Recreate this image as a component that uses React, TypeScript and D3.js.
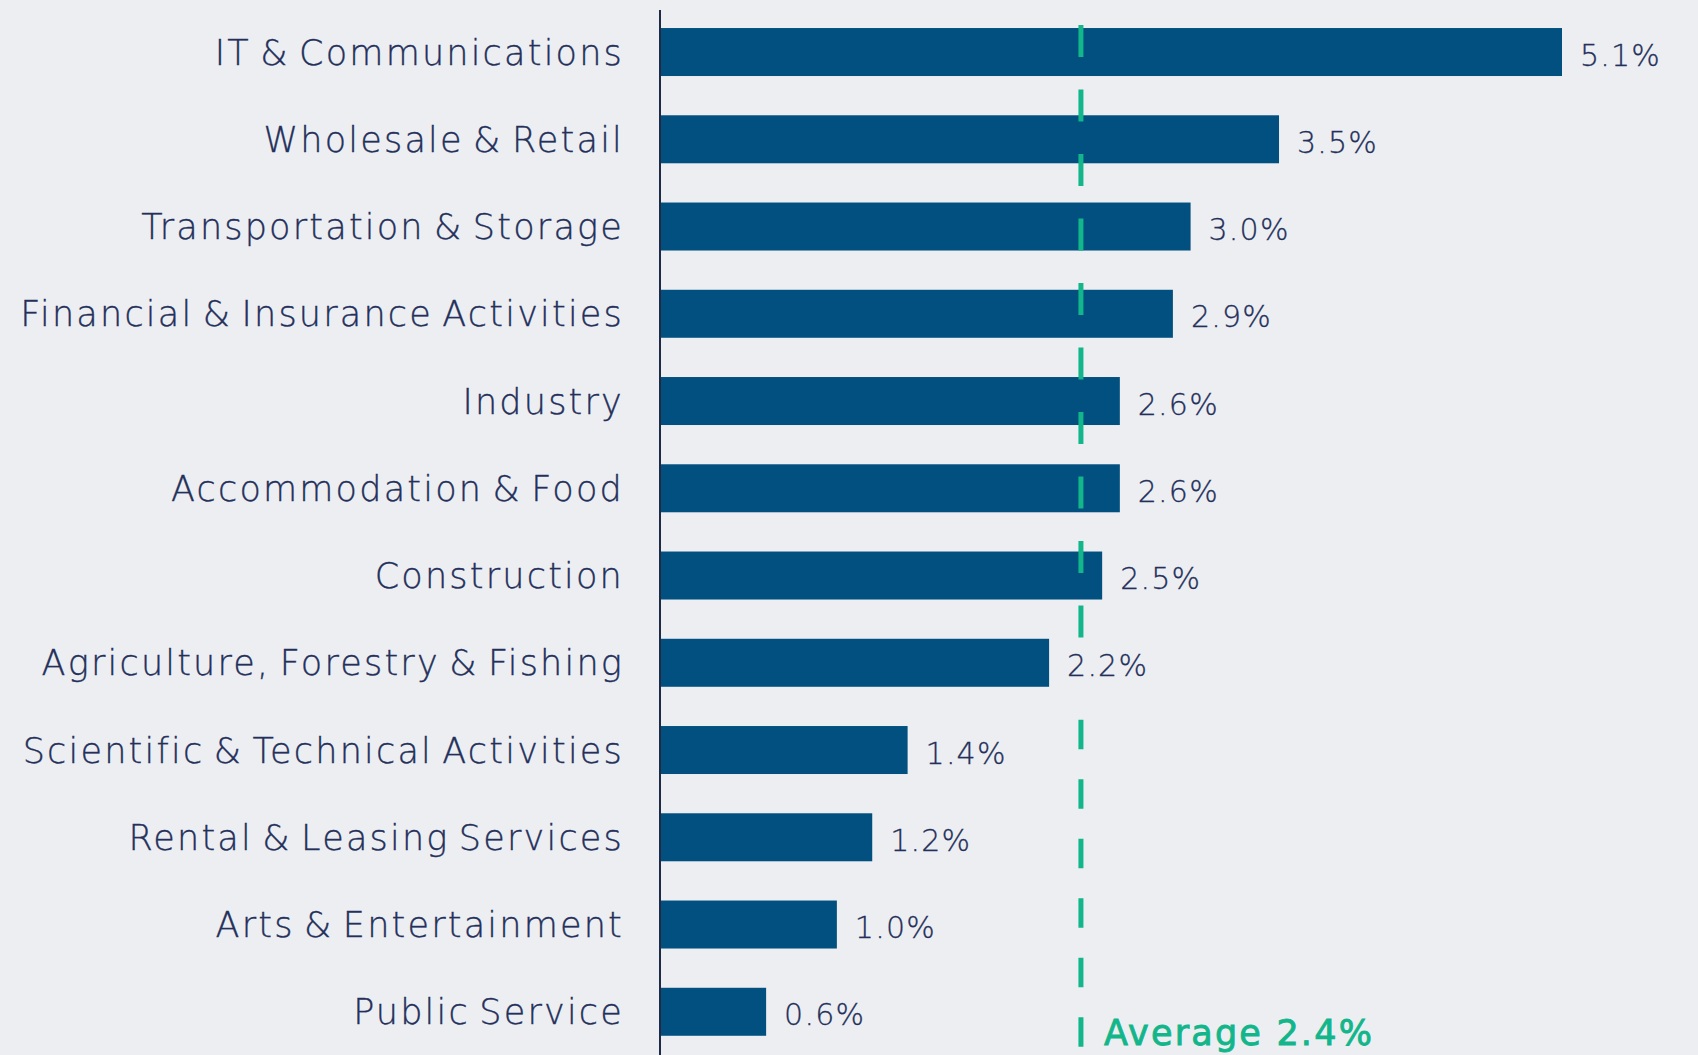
import React from "react";
import * as d3 from "d3";

const categories = [
  "IT & Communications",
  "Wholesale & Retail",
  "Transportation & Storage",
  "Financial & Insurance Activities",
  "Industry",
  "Accommodation & Food",
  "Construction",
  "Agriculture, Forestry & Fishing",
  "Scientific & Technical Activities",
  "Rental & Leasing Services",
  "Arts & Entertainment",
  "Public Service",
];
const values = [5.1, 3.5, 3.0, 2.9, 2.6, 2.6, 2.5, 2.2, 1.4, 1.2, 1.0, 0.6];
const averageValue = 2.38;
const averageLabel = "Average";

const W = 1698;
const H = 1055;
const BG = "#eceef2";
const BAR = "#02507f";
const TEXT = "#24305a";
const GREEN = "#12b68a";
const FONT = "'DejaVu Sans', sans-serif";

export default function App() {
  const x = d3.scaleLinear().domain([0, d3.max(values) as number]).range([660, 1562]);
  const y = d3
    .scaleBand<string>()
    .domain(categories)
    .range([8.4, 1055.4])
    .paddingInner(0.45)
    .paddingOuter(0.225);
  const bw = y.bandwidth();
  const fmt = d3.format(".1f");
  const xAvg = x(averageValue);
  const breakCat = categories[7];
  const upperTop = (y(categories[0]) as number) - 3;
  const upperBottom = y(breakCat) as number;
  const lowerTop = (y(breakCat) as number) + bw + 33;
  const lowerBottom = (y(categories[categories.length - 1]) as number) + bw + 11;

  return (
    <svg
      width={W}
      height={H}
      style={{ position: "absolute", left: 0, top: 0, display: "block" }}
    >
      <rect x={0} y={0} width={W} height={H} fill={BG} />
      {categories.map((c, i) => {
        const yy = y(c) as number;
        return (
          <g key={c}>
            <rect x={x(0)} y={yy} width={x(values[i]) - x(0)} height={bw} fill={BAR} />
            <text
              x={624}
              y={yy + bw / 2}
              dy="0.36em"
              textAnchor="end"
              fontFamily={FONT}
              fontSize={35}
              fontWeight={300}
              letterSpacing={2.2}
              wordSpacing={-4}
              fill={TEXT}
              stroke={TEXT}
              strokeWidth={0.35}
            >
              {c}
            </text>
            <text
              x={x(values[i]) + 18}
              y={yy + bw / 2}
              dy="0.45em"
              fontFamily={FONT}
              fontSize={30}
              fontWeight={300}
              letterSpacing={1.2}
              fill={TEXT}
              stroke={TEXT}
              strokeWidth={0.3}
            >
              {fmt(values[i])}%
            </text>
          </g>
        );
      })}
      <line x1={x(0)} x2={x(0)} y1={10} y2={H} stroke="#1f2a44" strokeWidth={2} />
      <line
        x1={xAvg}
        x2={xAvg}
        y1={upperTop}
        y2={upperBottom}
        stroke={GREEN}
        strokeWidth={5}
        strokeDasharray="32 32.5"
      />
      <line
        x1={xAvg}
        x2={xAvg}
        y1={lowerTop}
        y2={lowerBottom}
        stroke={GREEN}
        strokeWidth={5}
        strokeDasharray="29.5 30"
      />
      <text
        x={xAvg + 23}
        y={1045}
        fontFamily={FONT}
        fontSize={35}
        fontWeight={400}
        letterSpacing={2.2}
        fill={GREEN}
        stroke={GREEN}
        strokeWidth={0.9}
      >
        {averageLabel} {fmt(averageValue)}%
      </text>
    </svg>
  );
}
